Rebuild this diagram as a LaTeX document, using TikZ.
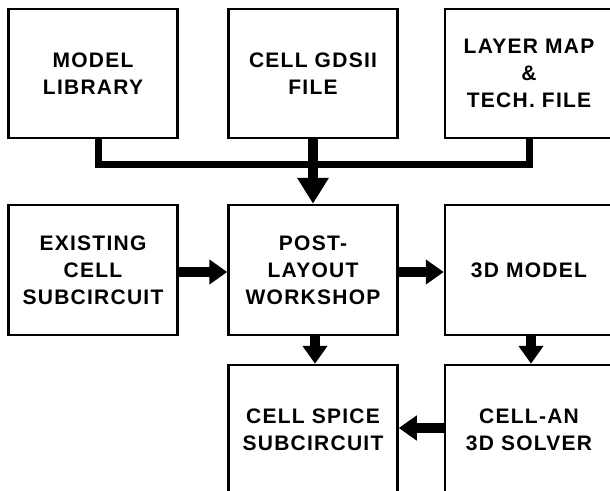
\documentclass[tikz,border=0pt]{standalone}
\usepackage{fontspec}
\newfontfamily\labfont{Liberation Sans}[LetterSpace=6]
\usetikzlibrary{arrows.meta}
\begin{document}
\begin{tikzpicture}[x=1pt,y=-1pt,
  box/.style={draw, line width=2.5pt, minimum width=169pt, minimum height=129pt,
    inner sep=0pt, align=center, font=\labfont\bfseries\fontsize{21}{27}\selectfont},
  bus/.style={line width=7pt, line join=miter},
  arr/.style={line width=10pt, -{Triangle[length=18pt,width=24pt]}},
  bigarr/.style={line width=10pt, -{Triangle[length=26pt,width=30pt]}}]
\clip (0,0) rectangle (610,490);
\fill[white] (0,0) rectangle (610,490);
% row 1
\node[box] (lib)  at (93,73.5)  {MODEL\\LIBRARY};
\node[box] (gds)  at (313,73.5) {CELL GDSII\\FILE};
\node[box, minimum width=168pt] (tech) at (529,73.5) {LAYER MAP\\\&\\TECH. FILE};
% row 2
\node[box, minimum height=130pt] (exist) at (93,270)  {EXISTING\\CELL\\SUBCIRCUIT};
\node[box, minimum height=130pt] (plw)   at (313,270) {POST-\\LAYOUT\\WORKSHOP};
\node[box, minimum height=130pt, minimum width=168pt] (model) at (529,270) {3D MODEL};
% row 3
\node[box, minimum height=130pt] (spice)  at (313,430) {CELL SPICE\\SUBCIRCUIT};
\node[box, minimum height=130pt, minimum width=168pt] (solver) at (529,430) {CELL-AN\\3D SOLVER};
% bus
\draw[bus] ([xshift=5pt]lib.south) -- ++(0,25.5) -| (tech.south);
\draw[bigarr] (gds.south) -- (plw.north);
% arrows
\draw[arr] ([yshift=-2pt]exist.east) -- ([yshift=-2pt]plw.west);
\draw[arr] ([yshift=-2pt]plw.east) -- ([yshift=-2pt]model.west);
\draw[arr] ([xshift=2pt]plw.south) -- ([xshift=2pt]spice.north);
\draw[arr] ([xshift=2pt]model.south) -- ([xshift=2pt]solver.north);
\draw[arr] ([yshift=2pt]solver.west) -- ([yshift=2pt]spice.east);
\end{tikzpicture}
\end{document}
